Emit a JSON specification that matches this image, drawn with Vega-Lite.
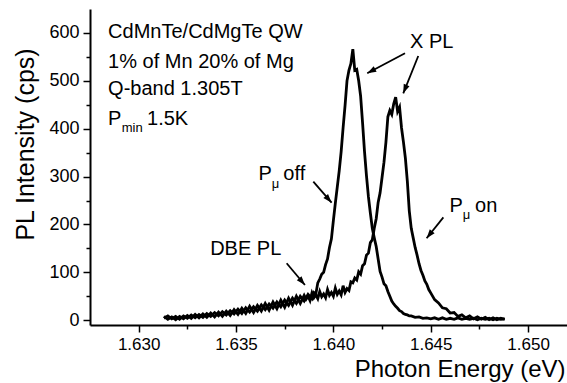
{
  "$schema": "https://vega.github.io/schema/vega-lite/v6.json",
  "autosize": {"type": "none"},
  "padding": {"left": 90, "top": 9, "right": 0, "bottom": 58},
  "width": 477,
  "height": 316,
  "background": "white",
  "config": {
    "view": {"stroke": null},
    "font": "Liberation Sans",
    "axis": {"grid": false, "domainColor": "black", "tickColor": "black", "labelColor": "black", "titleColor": "black", "labelFont": "Liberation Sans", "titleFont": "Liberation Sans", "titleFontWeight": "normal"}
  },
  "datasets": {
    "curves": [
      {"s":"on","e":1.6313,"i":8},{"s":"on","e":1.6315,"i":2},{"s":"on","e":1.6317,"i":7},{"s":"on","e":1.6319,"i":1},{"s":"on","e":1.6321,"i":8},{"s":"on","e":1.6323,"i":3},{"s":"on","e":1.6325,"i":10},{"s":"on","e":1.6327,"i":4},{"s":"on","e":1.6329,"i":12},{"s":"on","e":1.6331,"i":5},{"s":"on","e":1.6333,"i":13},{"s":"on","e":1.6335,"i":6},{"s":"on","e":1.6337,"i":15},{"s":"on","e":1.6339,"i":7},{"s":"on","e":1.6341,"i":17},{"s":"on","e":1.6343,"i":8},{"s":"on","e":1.6345,"i":19},{"s":"on","e":1.6347,"i":10},{"s":"on","e":1.6349,"i":22},{"s":"on","e":1.6351,"i":12},{"s":"on","e":1.6353,"i":25},{"s":"on","e":1.6355,"i":14},{"s":"on","e":1.6357,"i":29},{"s":"on","e":1.6359,"i":16},{"s":"on","e":1.6361,"i":31},{"s":"on","e":1.6363,"i":19},{"s":"on","e":1.6365,"i":35},{"s":"on","e":1.6367,"i":21},{"s":"on","e":1.6369,"i":38},{"s":"on","e":1.6371,"i":24},{"s":"on","e":1.6373,"i":42},{"s":"on","e":1.6375,"i":27},{"s":"on","e":1.6377,"i":46},{"s":"on","e":1.6379,"i":31},{"s":"on","e":1.6381,"i":50},{"s":"on","e":1.6383,"i":35},
      {"s":"on","e":1.6385,"i":52},{"s":"on","e":1.6386,"i":44},{"s":"on","e":1.6387,"i":50},{"s":"on","e":1.6388,"i":41},{"s":"on","e":1.6389,"i":57},{"s":"on","e":1.639,"i":47},{"s":"on","e":1.6391,"i":53},{"s":"on","e":1.6392,"i":45},{"s":"on","e":1.6393,"i":60},{"s":"on","e":1.6394,"i":49},{"s":"on","e":1.6395,"i":55},{"s":"on","e":1.6396,"i":47},{"s":"on","e":1.6397,"i":64},{"s":"on","e":1.6398,"i":52},{"s":"on","e":1.6399,"i":58},{"s":"on","e":1.64,"i":50},{"s":"on","e":1.6401,"i":67},{"s":"on","e":1.6402,"i":54},{"s":"on","e":1.6403,"i":61},{"s":"on","e":1.6404,"i":53},{"s":"on","e":1.6405,"i":72},{"s":"on","e":1.6406,"i":58},{"s":"on","e":1.6407,"i":66},{"s":"on","e":1.6408,"i":62},{"s":"on","e":1.6409,"i":80},
      {"s":"on","e":1.641,"i":78},{"s":"on","e":1.6411,"i":88},{"s":"on","e":1.6412,"i":84},{"s":"on","e":1.6413,"i":101},{"s":"on","e":1.6414,"i":96},{"s":"on","e":1.6415,"i":114},{"s":"on","e":1.6416,"i":118},{"s":"on","e":1.6417,"i":136},{"s":"on","e":1.6418,"i":140},{"s":"on","e":1.6419,"i":162},{"s":"on","e":1.642,"i":168},{"s":"on","e":1.6421,"i":192},{"s":"on","e":1.6422,"i":212},{"s":"on","e":1.6423,"i":246},{"s":"on","e":1.6424,"i":266},{"s":"on","e":1.6425,"i":298},{"s":"on","e":1.6426,"i":330},{"s":"on","e":1.6427,"i":372},{"s":"on","e":1.6428,"i":425},{"s":"on","e":1.6429,"i":438},{"s":"on","e":1.643,"i":430},{"s":"on","e":1.6431,"i":452},{"s":"on","e":1.6432,"i":466},{"s":"on","e":1.6433,"i":436},{"s":"on","e":1.6434,"i":445},{"s":"on","e":1.6435,"i":402},{"s":"on","e":1.6436,"i":372},{"s":"on","e":1.6437,"i":338},{"s":"on","e":1.6438,"i":290},{"s":"on","e":1.6439,"i":228},{"s":"on","e":1.644,"i":192},{"s":"on","e":1.6441,"i":172},{"s":"on","e":1.6442,"i":152},{"s":"on","e":1.6443,"i":136},{"s":"on","e":1.6444,"i":118},{"s":"on","e":1.6445,"i":104},{"s":"on","e":1.6446,"i":94},{"s":"on","e":1.6447,"i":82},{"s":"on","e":1.6448,"i":75},{"s":"on","e":1.6449,"i":64},{"s":"on","e":1.645,"i":57},
      {"s":"on","e":1.6452,"i":43},{"s":"on","e":1.6454,"i":36},{"s":"on","e":1.6456,"i":26},{"s":"on","e":1.6458,"i":24},{"s":"on","e":1.646,"i":15},{"s":"on","e":1.6462,"i":16},{"s":"on","e":1.6464,"i":8},{"s":"on","e":1.6466,"i":11},{"s":"on","e":1.6468,"i":5},{"s":"on","e":1.647,"i":9},{"s":"on","e":1.6472,"i":3},{"s":"on","e":1.6474,"i":7},{"s":"on","e":1.6476,"i":2},{"s":"on","e":1.6478,"i":6},{"s":"on","e":1.648,"i":1},{"s":"on","e":1.6482,"i":5},{"s":"on","e":1.6484,"i":1},{"s":"on","e":1.6486,"i":4},{"s":"on","e":1.6488,"i":2},
      {"s":"off","e":1.6313,"i":4},{"s":"off","e":1.6315,"i":9},{"s":"off","e":1.6317,"i":3},{"s":"off","e":1.6319,"i":8},{"s":"off","e":1.6321,"i":2},{"s":"off","e":1.6323,"i":9},{"s":"off","e":1.6325,"i":4},{"s":"off","e":1.6327,"i":11},{"s":"off","e":1.6329,"i":5},{"s":"off","e":1.6331,"i":12},{"s":"off","e":1.6333,"i":6},{"s":"off","e":1.6335,"i":14},{"s":"off","e":1.6337,"i":8},{"s":"off","e":1.6339,"i":16},{"s":"off","e":1.6341,"i":9},{"s":"off","e":1.6343,"i":18},{"s":"off","e":1.6345,"i":11},{"s":"off","e":1.6347,"i":20},{"s":"off","e":1.6349,"i":13},{"s":"off","e":1.6351,"i":23},{"s":"off","e":1.6353,"i":14},{"s":"off","e":1.6355,"i":26},{"s":"off","e":1.6357,"i":17},{"s":"off","e":1.6359,"i":28},{"s":"off","e":1.6361,"i":19},{"s":"off","e":1.6363,"i":32},{"s":"off","e":1.6365,"i":22},{"s":"off","e":1.6367,"i":34},{"s":"off","e":1.6369,"i":25},{"s":"off","e":1.6371,"i":38},{"s":"off","e":1.6373,"i":28},{"s":"off","e":1.6375,"i":42},{"s":"off","e":1.6377,"i":31},{"s":"off","e":1.6379,"i":46},{"s":"off","e":1.6381,"i":35},{"s":"off","e":1.6383,"i":50},{"s":"off","e":1.6385,"i":40},{"s":"off","e":1.6387,"i":54},{"s":"off","e":1.6389,"i":45},
      {"s":"off","e":1.639,"i":58},{"s":"off","e":1.6391,"i":55},{"s":"off","e":1.6392,"i":78},{"s":"off","e":1.6393,"i":86},{"s":"off","e":1.6394,"i":96},{"s":"off","e":1.6395,"i":100},{"s":"off","e":1.6396,"i":116},{"s":"off","e":1.6397,"i":128},{"s":"off","e":1.6398,"i":152},{"s":"off","e":1.6399,"i":170},{"s":"off","e":1.64,"i":208},{"s":"off","e":1.6401,"i":244},{"s":"off","e":1.6402,"i":278},{"s":"off","e":1.6403,"i":312},{"s":"off","e":1.6404,"i":352},{"s":"off","e":1.6405,"i":402},{"s":"off","e":1.6406,"i":448},{"s":"off","e":1.6407,"i":500},{"s":"off","e":1.6408,"i":522},{"s":"off","e":1.6409,"i":536},{"s":"off","e":1.641,"i":566},{"s":"off","e":1.6411,"i":522},{"s":"off","e":1.6412,"i":524},{"s":"off","e":1.6413,"i":500},{"s":"off","e":1.6414,"i":468},{"s":"off","e":1.6415,"i":412},{"s":"off","e":1.6416,"i":352},{"s":"off","e":1.6417,"i":302},{"s":"off","e":1.6418,"i":258},{"s":"off","e":1.6419,"i":224},{"s":"off","e":1.642,"i":192},{"s":"off","e":1.6421,"i":172},{"s":"off","e":1.6422,"i":154},{"s":"off","e":1.6423,"i":128},{"s":"off","e":1.6424,"i":102},{"s":"off","e":1.6425,"i":90},{"s":"off","e":1.6426,"i":76},{"s":"off","e":1.6427,"i":72},{"s":"off","e":1.6428,"i":60},{"s":"off","e":1.6429,"i":50},{"s":"off","e":1.643,"i":40},{"s":"off","e":1.6431,"i":34},{"s":"off","e":1.6432,"i":29},{"s":"off","e":1.6433,"i":25},{"s":"off","e":1.6434,"i":20},{"s":"off","e":1.6435,"i":18},{"s":"off","e":1.6436,"i":14},{"s":"off","e":1.6437,"i":12},{"s":"off","e":1.6438,"i":11},{"s":"off","e":1.6439,"i":9},{"s":"off","e":1.644,"i":9},
      {"s":"off","e":1.6442,"i":6},{"s":"off","e":1.6444,"i":7},{"s":"off","e":1.6446,"i":4},{"s":"off","e":1.6448,"i":5},{"s":"off","e":1.645,"i":3},{"s":"off","e":1.6452,"i":5},{"s":"off","e":1.6454,"i":2},{"s":"off","e":1.6456,"i":5},{"s":"off","e":1.6458,"i":2},{"s":"off","e":1.646,"i":4},{"s":"off","e":1.6462,"i":2},{"s":"off","e":1.6464,"i":5},{"s":"off","e":1.6466,"i":2},{"s":"off","e":1.6468,"i":4},{"s":"off","e":1.647,"i":2},{"s":"off","e":1.6472,"i":4},{"s":"off","e":1.6474,"i":1},{"s":"off","e":1.6476,"i":4},{"s":"off","e":1.6478,"i":2},{"s":"off","e":1.648,"i":4},{"s":"off","e":1.6482,"i":1},{"s":"off","e":1.6484,"i":4},{"s":"off","e":1.6486,"i":2},{"s":"off","e":1.6488,"i":3}
    ],
    "labels": [
      {"t":"CdMnTe/CdMgTe QW","e":1.62843,"i":590},
      {"t":"1% of Mn 20% of Mg","e":1.62843,"i":527},
      {"t":"Q-band 1.305T","e":1.62843,"i":470},
      {"t":"P","e":1.62843,"i":408},
      {"t":"1.5K","e":1.63043,"i":408},
      {"t":"X PL","e":1.64394,"i":568},
      {"t":"P","e":1.63615,"i":293},
      {"t":"off","e":1.63743,"i":293},
      {"t":"DBE PL","e":1.63367,"i":136},
      {"t":"P","e":1.64596,"i":227},
      {"t":"on","e":1.64728,"i":227}
    ],
    "subs": [
      {"t":"min","e":1.62913,"i":393},
      {"t":"μ","e":1.63683,"i":276},
      {"t":"μ","e":1.64664,"i":211}
    ],
    "arrows": [
      {"e1":1.64368,"i1":557.5,"e2":1.64174,"i2":515.7},
      {"e1":1.64436,"i1":551.8,"e2":1.64359,"i2":473.9},
      {"e1":1.63897,"i1":289.3,"e2":1.63991,"i2":245.5},
      {"e1":1.6376,"i1":118.9,"e2":1.63854,"i2":73.6},
      {"e1":1.64565,"i1":214.9,"e2":1.64479,"i2":171.1}
    ]
  },
  "resolve": {"axis": {"x": "independent", "y": "independent"}},
  "layer": [
    {
      "data": {"name": "curves"},
      "mark": {"type": "line", "color": "black", "strokeWidth": 2.8, "clip": true},
      "encoding": {
        "x": {"field": "e", "type": "quantitative", "scale": {"domain": [1.6275, 1.652], "nice": false, "zero": false},
          "axis": {"orient": "bottom", "values": [1.63, 1.635, 1.64, 1.645, 1.65], "format": ".3f", "labelFontSize": 17, "tickSize": 7, "tickWidth": 1.5, "domainWidth": 2, "labelPadding": 4,
            "title": "Photon Energy (eV)", "titleFontSize": 24, "titleAlign": "right", "titleAnchor": null, "titleX": 475, "titleY": 51, "titleBaseline": "alphabetic"}},
        "y": {"field": "i", "type": "quantitative", "scale": {"domain": [-10, 650], "nice": false, "zero": false},
          "axis": {"orient": "left", "values": [0, 100, 200, 300, 400, 500, 600], "labelFontSize": 18, "tickSize": 7, "tickWidth": 1.5, "domainWidth": 2, "labelPadding": 4,
            "title": "PL Intensity (cps)", "titleFontSize": 25, "titleAnchor": null, "titleAlign": "center", "titleX": -57, "titleY": 135, "titleBaseline": "alphabetic", "titleAngle": -90}},
        "detail": {"field": "s"}
      }
    },
    {
      "data": {"name": "arrows"},
      "mark": {"type": "rule", "color": "black", "strokeWidth": 1.8},
      "encoding": {
        "x": {"field": "e1", "type": "quantitative", "scale": {"domain": [1.6275, 1.652], "nice": false, "zero": false},
          "axis": {"orient": "bottom", "values": [1.6325, 1.6375, 1.6425, 1.6475], "labels": false, "domain": false, "tickSize": 4, "tickWidth": 1.5, "title": null}},
        "y": {"field": "i1", "type": "quantitative", "scale": {"domain": [-10, 650], "nice": false, "zero": false},
          "axis": {"orient": "left", "values": [50, 150, 250, 350, 450, 550], "labels": false, "domain": false, "tickSize": 4, "tickWidth": 1.5, "title": null}},
        "x2": {"field": "e2"},
        "y2": {"field": "i2"}
      }
    },
    {
      "data": {"name": "arrows"},
      "transform": [{"calculate": "atan2((datum.e2-datum.e1)*19469,(datum.i2-datum.i1)*0.4788)*180/PI", "as": "ang"}],
      "mark": {"type": "point", "shape": "M0,0L-0.45,1.3L0.45,1.3Z", "filled": true, "color": "black", "opacity": 1, "size": 190},
      "encoding": {
        "x": {"field": "e2", "type": "quantitative", "scale": {"domain": [1.6275, 1.652], "nice": false, "zero": false}, "axis": null},
        "y": {"field": "i2", "type": "quantitative", "scale": {"domain": [-10, 650], "nice": false, "zero": false}, "axis": null},
        "angle": {"field": "ang", "type": "quantitative", "scale": null}
      }
    },
    {
      "data": {"name": "labels"},
      "mark": {"type": "text", "align": "left", "baseline": "alphabetic", "fontSize": 20, "font": "Liberation Sans", "color": "black"},
      "encoding": {
        "x": {"field": "e", "type": "quantitative", "scale": {"domain": [1.6275, 1.652], "nice": false, "zero": false}, "axis": null},
        "y": {"field": "i", "type": "quantitative", "scale": {"domain": [-10, 650], "nice": false, "zero": false}, "axis": null},
        "text": {"field": "t"}
      }
    },
    {
      "data": {"name": "subs"},
      "mark": {"type": "text", "align": "left", "baseline": "alphabetic", "fontSize": 13, "font": "Liberation Sans", "color": "black"},
      "encoding": {
        "x": {"field": "e", "type": "quantitative", "scale": {"domain": [1.6275, 1.652], "nice": false, "zero": false}, "axis": null},
        "y": {"field": "i", "type": "quantitative", "scale": {"domain": [-10, 650], "nice": false, "zero": false}, "axis": null},
        "text": {"field": "t"}
      }
    },
    {
      "mark": {"type": "rule", "color": "black", "strokeWidth": 2},
      "encoding": {
        "y": {"datum": 650, "type": "quantitative", "scale": {"domain": [-10, 650], "nice": false, "zero": false}, "axis": null}
      }
    }
  ]
}
